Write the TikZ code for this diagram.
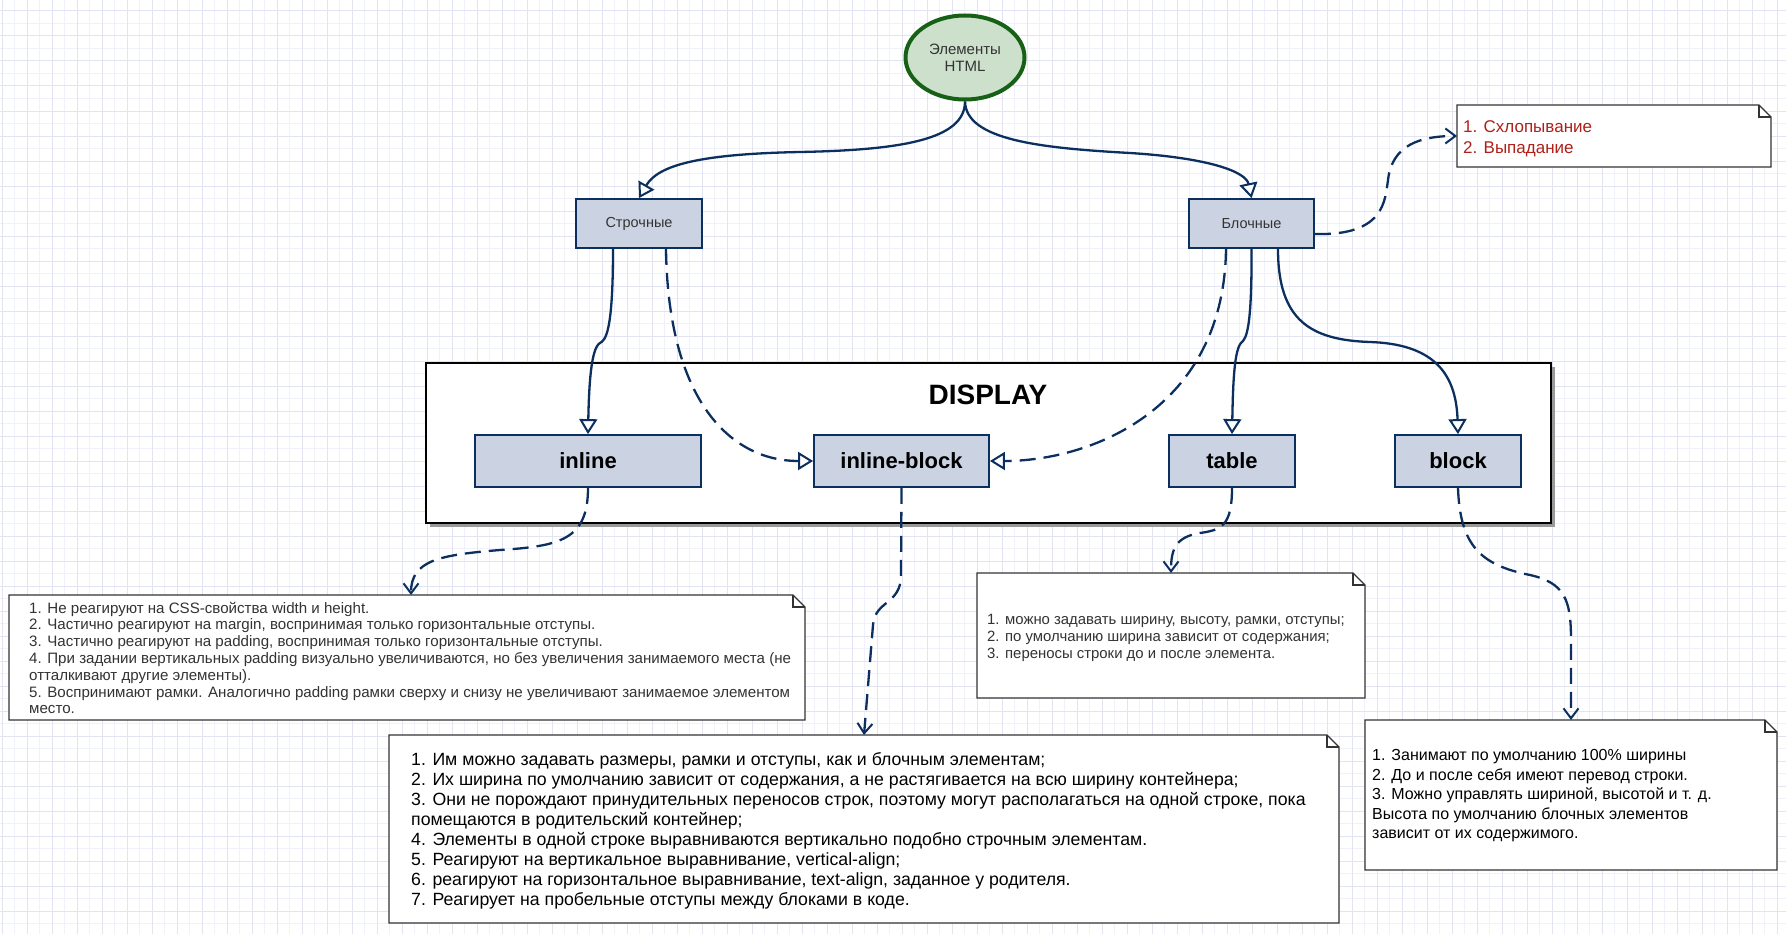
\documentclass[tikz,border=0pt]{standalone}
\usepackage{fontspec}
\setmainfont{Liberation Sans}
\usetikzlibrary{shapes.geometric,arrows.meta,shadows,calc}
\pgfdeclarelayer{gridl}
\pgfdeclarelayer{back}
\pgfsetlayers{gridl,back,main}
\definecolor{navy}{HTML}{0B2F5E}
\definecolor{boxfill}{HTML}{CBD3E2}
\definecolor{ellfill}{HTML}{CCE0CC}
\definecolor{elldraw}{HTML}{176117}
\definecolor{txtgray}{HTML}{333333}
\definecolor{notered}{HTML}{B0201A}
\definecolor{gmaj}{RGB}{226,228,241}
\definecolor{gmin}{RGB}{241,242,249}
\newcommand\mynoteframe[1]{%
  \begin{pgfonlayer}{back}
  \draw[noteline] (#1.north west) -- ([xshift=-12pt]#1.north east) -- ([yshift=-12pt]#1.north east) -- (#1.south east) -- (#1.south west) -- cycle;
  \draw[noteline,fill=none] ([xshift=-12pt]#1.north east) -- ([xshift=-12pt,yshift=-12pt]#1.north east) -- ([yshift=-12pt]#1.north east);
  \end{pgfonlayer}}
\begin{document}
\begin{tikzpicture}[x=1pt,y=-1pt,
  smallbox/.style={draw=navy, line width=1.8pt, fill=boxfill, minimum width=126pt, minimum height=49pt, inner sep=0pt, font=\fontsize{14.5}{17}\selectfont, text=txtgray},
  bigbox/.style={draw=navy, line width=1.8pt, fill=boxfill, minimum height=52pt, inner sep=0pt, font=\fontsize{22}{26}\selectfont\bfseries, text=black},
  frame/.style={draw=none, inner sep=0pt, outer sep=0pt},
  noteline/.style={draw=txtgray, line width=1.2pt, fill=white, line join=miter},
  notetext/.style={anchor=west, inner sep=0pt, align=left, text=black},
  edge/.style={draw=navy, line width=2.3pt},
  dashedge/.style={edge, dash pattern=on 16pt off 8pt},
  tri/.style={-{Triangle[length=15pt, width=18pt, fill=white, line width=2pt]}},
  vee/.style={-{Straight Barb[length=10pt, width=15pt, line width=2pt]}},
  gmajor/.style={draw=gmaj, line width=1pt},
  gminor/.style={draw=gmin, line width=0.8pt}
]
\useasboundingbox (0,0) rectangle (1786,934);
\begin{pgfonlayer}{gridl}
\fill[white] (0,0) rectangle (1786,934);
\foreach \i in {0,...,71} \draw[gminor] ({14.5+25*\i},0) -- ++(0,934);
\foreach \j in {0,...,37} \draw[gminor] (0,{23.5+25*\j}) -- ++(1786,0);
\foreach \i in {0,...,71} \draw[gmajor] ({2+25*\i},0) -- ++(0,934);
\foreach \j in {0,...,37} \draw[gmajor] (0,{11+25*\j}) -- ++(1786,0);
\end{pgfonlayer}

% container
\node[draw=black, line width=2.5pt, fill=white, minimum width=1125pt, minimum height=160pt,
  drop shadow={shadow xshift=4pt, shadow yshift=-4pt, fill=black!40, opacity=1}] (disp) at (988.5,443) {};
\node[font=\fontsize{28}{32}\selectfont\bfseries, inner sep=0pt] (ttl) at (988,395) {DISPLAY};

% top nodes
\node[ellipse, draw=elldraw, line width=4pt, fill=ellfill, minimum width=119pt, minimum height=84pt,
  align=center, inner sep=0pt, font=\fontsize{15}{17}\selectfont, text=txtgray] (el) at (965,57.5) {Элементы\\HTML};
\node[smallbox] (str) at (639,223.5) {Строчные};
\node[smallbox, minimum width=125pt] (bl) at (1251.5,223.5) {Блочные};

% display nodes
\node[bigbox, minimum width=226pt] (inl) at (588,461) {inline};
\node[bigbox, minimum width=175pt] (ib) at (901.5,461) {inline-block};
\node[bigbox, minimum width=126pt] (tab) at (1232,461) {table};
\node[bigbox, minimum width=126pt] (blk) at (1458,461) {block};

% notes
\node[frame, minimum width=314pt, minimum height=62pt] (tr) at (1614,136) {};
\mynoteframe{tr}
\node[notetext, text=notered, font=\fontsize{17}{21}\selectfont] (trt) at (1463,138.5) {1. Схлопывание\\2. Выпадание};

\node[frame, minimum width=796pt, minimum height=125pt] (n1) at (407,657.5) {};
\mynoteframe{n1}
\node[notetext, text=txtgray, font=\fontsize{15.1}{16.8}\selectfont] (n1t) at (29,658) {1. Не реагируют на CSS-свойства width и height.\\
2. Частично реагируют на margin, воспринимая только горизонтальные отступы.\\
3. Частично реагируют на padding, воспринимая только горизонтальные отступы.\\
4. При задании вертикальных padding визуально увеличиваются, но без увеличения занимаемого места (не\\
отталкивают другие элементы).\\
5. Воспринимают рамки. Аналогично padding рамки сверху и снизу не увеличивают занимаемое элементом\\
место.};

\node[frame, minimum width=950pt, minimum height=188pt] (n2) at (864,829) {};
\mynoteframe{n2}
\node[notetext, font=\fontsize{17.7}{20}\selectfont] (n2t) at (411,830.5) {1. Им можно задавать размеры, рамки и отступы, как и блочным элементам;\\
2. Их ширина по умолчанию зависит от содержания, а не растягивается на всю ширину контейнера;\\
3. Они не порождают принудительных переносов строк, поэтому могут располагаться на одной строке, пока\\
помещаются в родительский контейнер;\\
4. Элементы в одной строке выравниваются вертикально подобно строчным элементам.\\
5. Реагируют на вертикальное выравнивание, vertical-align;\\
6. реагируют на горизонтальное выравнивание, text-align, заданное у родителя.\\
7. Реагирует на пробельные отступы между блоками в коде.};

\node[frame, minimum width=388pt, minimum height=125pt] (n3) at (1171,635.5) {};
\mynoteframe{n3}
\node[notetext, text=txtgray, font=\fontsize{14.9}{17}\selectfont] (n3t) at (987,638) {1. можно задавать ширину, высоту, рамки, отступы;\\
2. по умолчанию ширина зависит от содержания;\\
3. переносы строки до и после элемента.};

\node[frame, minimum width=412pt, minimum height=150pt] (n4) at (1571,795) {};
\mynoteframe{n4}
\node[notetext, font=\fontsize{16}{19.5}\selectfont] (n4t) at (1372,796) {1. Занимают по умолчанию 100\% ширины\\
2. До и после себя имеют перевод строки.\\
3. Можно управлять шириной, высотой и т. д.\\
Высота по умолчанию блочных элементов\\
зависит от их содержимого.};

% connectors
\draw[edge, tri] (el.south) .. controls (965,140) and (900,150) .. (800,152) .. controls (700,154) and (658,165) .. (str.north);
\draw[edge, tri] (el.south) .. controls (966,140) and (1040,148) .. (1130,153) .. controls (1210,158) and (1246,172) .. (bl.north);
\draw[edge, tri] ([xshift=-26pt]str.south) .. controls (613,335) and (605,340) .. (600,343) .. controls (591,348) and (589,385) .. (inl.north);
\draw[dashedge, tri] ([xshift=27pt]str.south) .. controls (668,400) and (730,461) .. (ib.west);
\draw[dashedge, tri] ([xshift=-25.5pt]bl.south) .. controls (1224,410) and (1090,461) .. (ib.east);
\draw[edge, tri] (bl.south) .. controls (1252,330) and (1246,338) .. (1242,342) .. controls (1234,348) and (1233,385) .. (tab.north);
\draw[edge, tri] ([xshift=26.5pt]bl.south) .. controls (1278,320) and (1310,340) .. (1370,342) .. controls (1430,344) and (1456,370) .. (blk.north);
\draw[dashedge, vee] ([yshift=-10.5pt]bl.east) .. controls (1385,236) and (1385,200) .. (1388,180) .. controls (1392,145) and (1420,136) .. (tr.west);
\draw[dashedge, vee] (inl.south) .. controls (588,540) and (560,546) .. (500,550) .. controls (440,555) and (411,560) .. ([xshift=4pt]n1.north);
\draw[dashedge, vee] (ib.south) -- (901,575) .. controls (901,605) and (875,600) .. (873,625) -- (n2.north);
\draw[dashedge, vee] (tab.south) .. controls (1232,525) and (1222,530) .. (1200,533) .. controls (1175,537) and (1171,550) .. (n3.north);
\draw[dashedge, vee] (blk.south) .. controls (1460,545) and (1480,565) .. (1530,575) .. controls (1565,583) and (1571,600) .. (1571,640) -- (n4.north);
\end{tikzpicture}
\end{document}
